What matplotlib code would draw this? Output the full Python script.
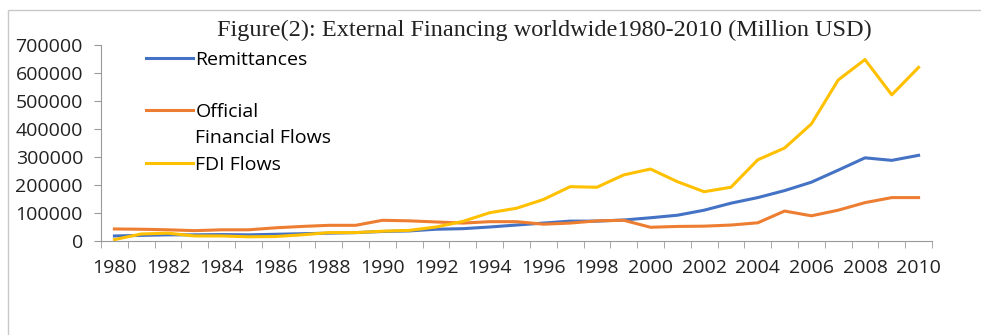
import numpy as np
import matplotlib.pyplot as plt
from matplotlib.lines import Line2D
from matplotlib.patches import Rectangle

years = list(range(1980, 2011))

remittances = [18000, 20000, 22000, 22000, 23000, 22000, 24000, 26000, 28000, 30000,
               34000, 36000, 42000, 44000, 50000, 57000, 64000, 71000, 71000, 75000,
               83000, 92000, 110000, 135000, 155000, 180000, 210000, 253000, 297000, 288000,
               306000]
official = [43000, 42000, 40000, 37000, 40000, 40000, 47000, 52000, 56000, 56000,
            74000, 72000, 68000, 64000, 69000, 69000, 60000, 64000, 72000, 74000,
            49000, 52000, 53000, 57000, 65000, 107000, 90000, 110000, 137000, 155000,
            155000]
fdi = [5000, 25000, 28000, 18000, 18000, 15000, 16000, 22000, 30000, 30000,
       35000, 38000, 50000, 70000, 101000, 117000, 148000, 194000, 192000, 236000,
       257000, 212000, 176000, 192000, 290000, 332000, 418000, 575000, 648000, 522000,
       620000]

blue = "#4472C4"
orange = "#ED7D31"
yellow = "#FFC000"

plt.rcParams['font.family'] = ['Open Sans', 'DejaVu Sans']

fig = plt.figure(figsize=(9.81, 3.35), dpi=100)
fig.patches.append(Rectangle((8 / 981, -0.1), 1.2, 1.1 - 10 / 335, transform=fig.transFigure,
                             fill=False, edgecolor="#c8c8c8", linewidth=1))

ax = fig.add_axes([101 / 981, (335 - 241) / 335, (932 - 101) / 981, 196 / 335])

x = np.arange(len(years))
ax.plot(x, remittances, color=blue, lw=2.2)
ax.plot(x, official, color=orange, lw=2.2)
ax.plot(x, fdi, color=yellow, lw=2.2)

ax.set_xlim(-0.5, len(years) - 0.5)
ax.set_ylim(0, 700000)
ax.set_yticks(np.arange(0, 700001, 100000))
ax.set_yticklabels([str(v) for v in range(0, 700001, 100000)], fontsize=14, color="#222222")

ax.set_xticks(x[::2])
ax.set_xticklabels([str(y) for y in years[::2]], fontsize=14, color="#222222")
ax.set_xticks(np.arange(-0.5, len(years)), minor=True)
ax.tick_params(axis='x', which='major', length=0, pad=13)
ax.tick_params(axis='x', which='minor', length=5, color="#999999")
ax.tick_params(axis='y', length=5, color="#999999", pad=8)

for s in ['top', 'right']:
    ax.spines[s].set_visible(False)
ax.spines['left'].set_color("#999999")
ax.spines['bottom'].set_color("#999999")

# legend rows: key lines on the first text line, like Excel does
blank = Line2D([], [], color='none')
handles = [Line2D([], [], color=blue, lw=2.2), blank,
           Line2D([], [], color=orange, lw=2.2), blank,
           Line2D([], [], color=yellow, lw=2.2)]
labels = ["Remittances", " ", "Official", "Financial Flows", "FDI Flows"]
ax.legend(handles, labels, loc="upper left", bbox_to_anchor=(0.054, 0.97),
          frameon=False, fontsize=14, borderpad=0, borderaxespad=0,
          handlelength=2.4, handletextpad=0.15, labelspacing=0.42)

fig.text(0.555, 0.91, "Figure(2): External Financing worldwide1980-2010 (Million USD)",
         family="Liberation Serif", fontsize=17.5, ha="center", va="center", color="#222222")

fig.savefig("out.png")
